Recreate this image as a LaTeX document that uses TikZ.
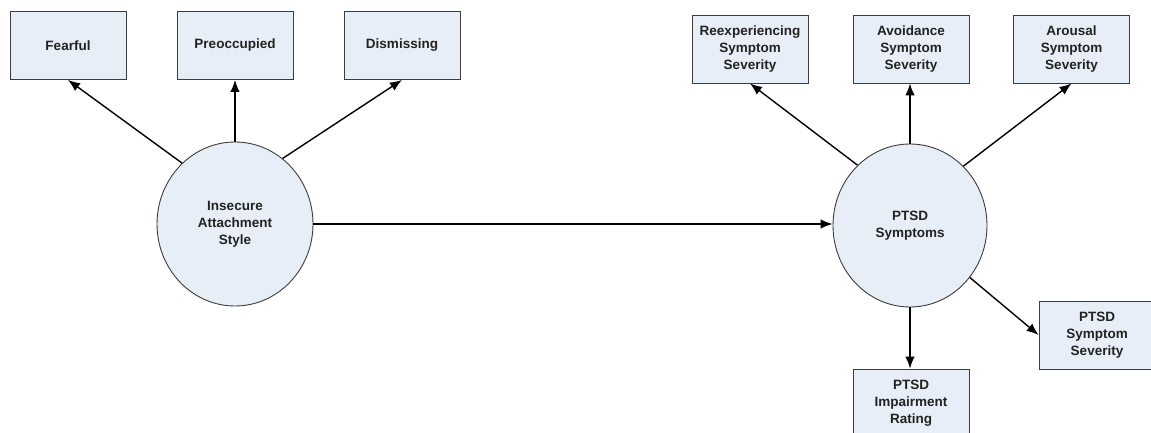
\documentclass[tikz,border=0pt]{standalone}
\usepackage{fontspec}
\setmainfont{Liberation Sans}
\usetikzlibrary{shapes.geometric,arrows.meta}
\definecolor{boxfill}{RGB}{232,238,247}
\definecolor{boxline}{RGB}{60,60,60}
\definecolor{txt}{RGB}{34,34,34}
\tikzset{
  obsbox/.style={draw=boxline, line width=0.9pt, fill=boxfill, minimum width=116pt, minimum height=68pt, inner sep=0pt, align=center, text=txt, font=\fontsize{13.5}{17}\selectfont\bfseries},
  latent/.style={ellipse, draw=boxline, line width=0.9pt, fill=boxfill, minimum width=156pt, minimum height=164pt, inner sep=0pt, align=center, text=txt, font=\fontsize{13.5}{17}\selectfont\bfseries},
  conn/.style={line width=1.4pt, -{Latex[length=12pt,width=9.5pt]}}
}
\begin{document}
\begin{tikzpicture}[x=1pt,y=-1pt]
\useasboundingbox (0,0) rectangle (1151,433);
\clip (0,0) rectangle (1151,433);
\node[obsbox] (fear) at (68,45.5) {Fearful};
\node[obsbox] (preocc) at (235,45.5) {Preoccupied};
\node[obsbox] (dism) at (402,45.5) {Dismissing};
\node[latent] (insec) at (235,224) {Insecure\\Attachment\\Style};
\node[obsbox] (reexp) at (750,49) {Reexperiencing\\Symptom\\Severity};
\node[obsbox] (avoid) at (911,49) {Avoidance\\Symptom\\Severity};
\node[obsbox] (arous) at (1071.5,49) {Arousal\\Symptom\\Severity};
\node[latent, minimum width=154pt, minimum height=163pt] (ptsd) at (910,225.5) {PTSD\\Symptoms};
\node[obsbox] (impair) at (911,403) {PTSD\\Impairment\\Rating};
\node[obsbox] (sev) at (1097,335) {PTSD\\Symptom\\Severity};
\draw[conn] (insec.131) -- (fear.south);
\draw[conn] (insec.north) -- (preocc.south);
\draw[conn] (insec.54) -- (dism.south);
\draw[conn] (insec.east) -- (insec.east -| ptsd.west);
\draw[conn] (ptsd.131) -- (reexp.south);
\draw[conn] (ptsd.north) -- (ptsd.north |- avoid.south);
\draw[conn] (ptsd.48) -- (arous.south);
\draw[conn] (ptsd.south) -- (ptsd.south |- impair.north);
\draw[conn] (ptsd.-41) -- (sev.west);
\end{tikzpicture}
\end{document}
